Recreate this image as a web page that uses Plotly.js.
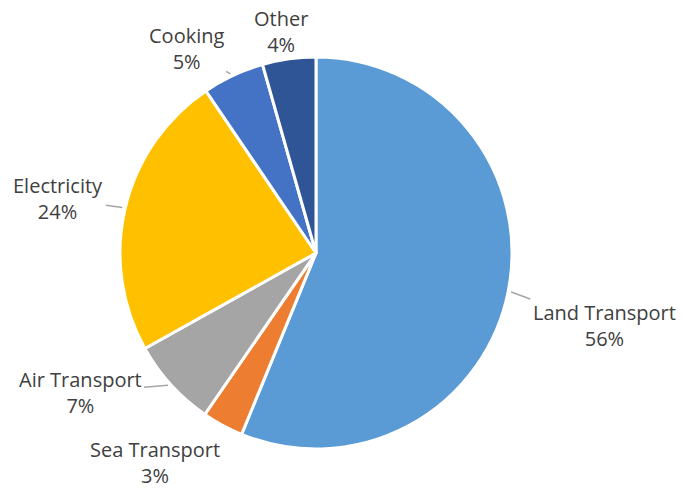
<!DOCTYPE html>
<html>
<head>
<meta charset="utf-8">
<script src="https://cdn.plot.ly/plotly-3.0.1.min.js"></script>
<style>html,body{margin:0;padding:0;background:#fff;}#chart{width:682px;height:488px;}</style>
</head>
<body>
<div id="chart"></div>
<script>
const categories = ["Land Transport", "Sea Transport", "Air Transport", "Electricity", "Cooking", "Other"];
const values = [56.2, 3.4, 7.3, 23.6, 5.1, 4.4];
const colors = ["#5B9BD5", "#ED7D31", "#A5A5A5", "#FFC000", "#4472C4", "#2F5597"];

// label offsets (pixels from the slice's outer mid-point) and whether a leader line is drawn
const labelOffsetX = [96, -68, -91, -67, -47, -8];
const labelOffsetY = [35, 37, 8, -9, -27, -27];
const leader = [true, false, true, true, true, false];

const W = 682, H = 488;
const dom = {x: [120/W, 512/W], y: [39/H, 431/H]};
const cx = (dom.x[0] + dom.x[1]) / 2, cy = (dom.y[0] + dom.y[1]) / 2;
const Rpx = (dom.y[1] - dom.y[0]) * H / 2;

const total = values.reduce((a, b) => a + b, 0);
let cum = 0;
const annotations = values.map((v, i) => {
  const mid = (cum + v / 2) / total * 2 * Math.PI;
  cum += v;
  const pct = Math.round(v / total * 100);
  return {
    xref: "paper", yref: "paper",
    x: cx + Rpx * Math.sin(mid) / W,
    y: cy + Rpx * Math.cos(mid) / H,
    text: categories[i] + "<br>" + pct + "%",
    showarrow: true,
    arrowhead: 0,
    arrowwidth: 1.5,
    arrowcolor: leader[i] ? "#A6A6A6" : "rgba(0,0,0,0)",
    standoff: 3,
    ax: labelOffsetX[i], ay: labelOffsetY[i],
    align: "center",
    xanchor: "center", yanchor: "middle",
    borderpad: 2,
    font: {family: "'Open Sans', sans-serif", size: 20, color: "#404040"}
  };
});

const trace = {
  type: "pie",
  labels: categories,
  values: values,
  sort: false,
  direction: "clockwise",
  rotation: 0,
  marker: {colors: colors, line: {color: "#ffffff", width: 3}},
  textinfo: "none",
  domain: dom,
  automargin: false,
  hoverinfo: "none"
};

const layout = {
  width: W, height: H,
  margin: {l: 0, r: 0, t: 0, b: 0},
  paper_bgcolor: "#ffffff",
  showlegend: false,
  annotations: annotations
};

Plotly.newPlot("chart", [trace], layout, {staticPlot: true, displayModeBar: false});
</script>
</body>
</html>
